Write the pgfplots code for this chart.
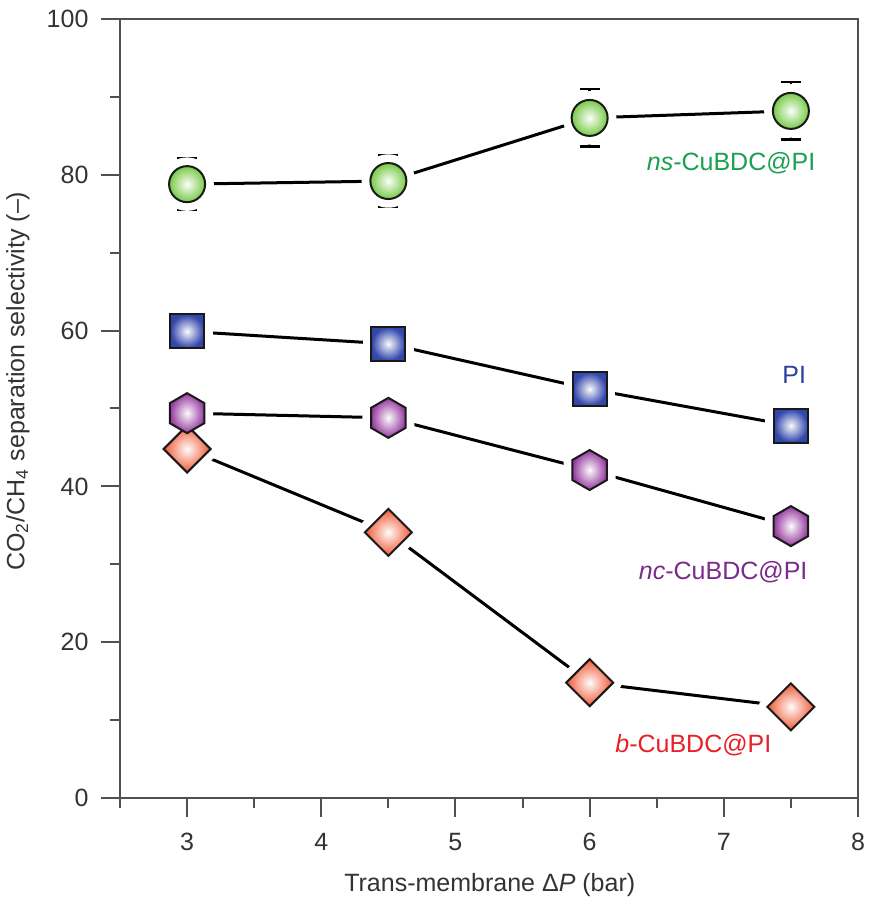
\documentclass[border=0pt]{standalone}
\usepackage{pgfplots}
\pgfplotsset{compat=1.18}
\usepackage{pgfplotstable}
\usepackage{fontspec}
\setmainfont{Liberation Sans}
\definecolor{cG}{RGB}{125,204,78}
\definecolor{cB}{RGB}{52,72,172}
\definecolor{cP}{RGB}{152,64,162}
\definecolor{cR}{RGB}{240,94,60}
\definecolor{tG}{RGB}{26,160,80}
\definecolor{tB}{RGB}{46,63,155}
\definecolor{tP}{RGB}{123,43,138}
\definecolor{tR}{RGB}{232,32,42}
\definecolor{axc}{RGB}{80,80,80}
\pgfdeclareradialshading{shG}{\pgfpointorigin}{color(0bp)=(white); color(3bp)=(white!85!cG); color(24bp)=(cG); color(50bp)=(cG!88!black); color(75bp)=(cG!88!black)}
\pgfdeclareradialshading{shB}{\pgfpointorigin}{color(0bp)=(white); color(3bp)=(white!85!cB); color(24bp)=(cB); color(50bp)=(cB!88!black); color(75bp)=(cB!88!black)}
\pgfdeclareradialshading{shP}{\pgfpointorigin}{color(0bp)=(white); color(3bp)=(white!85!cP); color(24bp)=(cP); color(50bp)=(cP!88!black); color(75bp)=(cP!88!black)}
\pgfdeclareradialshading{shR}{\pgfpointorigin}{color(0bp)=(white); color(3bp)=(white!85!cR); color(24bp)=(cR); color(50bp)=(cR!88!black); color(75bp)=(cR!88!black)}
\def\pathC{\pgfpathcircle{\pgfpointorigin}{7.2pt}}
\def\pathS{\pgfpathrectangle{\pgfqpoint{-6.8pt}{-6.8pt}}{\pgfqpoint{13.6pt}{13.6pt}}}
\def\pathD{\pgfpathmoveto{\pgfqpoint{0pt}{9.4pt}}\pgfpathlineto{\pgfqpoint{9.4pt}{0pt}}\pgfpathlineto{\pgfqpoint{0pt}{-9.4pt}}\pgfpathlineto{\pgfqpoint{-9.4pt}{0pt}}\pgfpathclose}
\def\pathH{\pgfpathmoveto{\pgfqpoint{0pt}{8pt}}\pgfpathlineto{\pgfqpoint{-6.93pt}{4pt}}\pgfpathlineto{\pgfqpoint{-6.93pt}{-4pt}}\pgfpathlineto{\pgfqpoint{0pt}{-8pt}}\pgfpathlineto{\pgfqpoint{6.93pt}{-4pt}}\pgfpathlineto{\pgfqpoint{6.93pt}{4pt}}\pgfpathclose}
\pgfdeclareplotmark{mkG}{\pathC\pgfshadepath{shG}{0}\pgfusepath{}\pathC\pgfusepathqstroke}
\pgfdeclareplotmark{mkB}{\pathS\pgfshadepath{shB}{0}\pgfusepath{}\pathS\pgfusepathqstroke}
\pgfdeclareplotmark{mkP}{\pathH\pgfshadepath{shP}{0}\pgfusepath{}\pathH\pgfusepathqstroke}
\pgfdeclareplotmark{mkR}{\pathD\pgfshadepath{shR}{0}\pgfusepath{}\pathD\pgfusepathqstroke}
\pgfdeclareplotmark{hC}{\pathC\pgfusepathqfillstroke}
\pgfdeclareplotmark{hS}{\pathS\pgfusepathqfillstroke}
\pgfdeclareplotmark{hH}{\pathH\pgfusepathqfillstroke}
\pgfdeclareplotmark{hD}{\pathD\pgfusepathqfillstroke}
\pgfdeclareplotmark{ecap}{\pgfpathmoveto{\pgfqpoint{0pt}{-4pt}}\pgfpathlineto{\pgfqpoint{0pt}{4pt}}\pgfusepathqstroke}
\pgfplotstableread{
x y e
3 78.8 3.3
4.5 79.2 3.3
6 87.3 3.7
7.5 88.2 3.7
}\ns
\pgfplotstableread{
x y e
3 59.9 2.7
4.5 58.3 2.6
6 52.5 2.2
7.5 47.8 1.5
}\pi
\pgfplotstableread{
x y e
3 49.4 2.2
4.5 48.8 2.2
6 42.1 1.0
7.5 34.9 1.0
}\nc
\pgfplotstableread{
x y
3 44.8
4.5 34.1
6 14.8
7.5 11.7
}\bb
\pgfplotsset{ebar/.style={black, line width=1pt, only marks, mark=none, forget plot,
  error bars/.cd, y dir=both, y explicit,
  error bar style={black, line width=1pt, solid},
  error mark=ecap, error mark options={black, line width=1.1pt}}}
\begin{document}
\begin{tikzpicture}
\begin{axis}[at={(0,0)}, anchor=south west, scale only axis,
  width=295.2pt, height=311.6pt,
  xmin=2.5, xmax=8, ymin=0, ymax=100,
  xtick={3,4,5,6,7,8}, minor xtick={2.5,3.5,4.5,5.5,6.5,7.5},
  ytick={0,20,40,60,80,100}, minor ytick={10,30,50,70,90},
  xtick pos=bottom, ytick pos=left, tick align=outside,
  major tick length=7.6pt, minor tick length=4pt,
  /pgf/number format/assume math mode=true,
  axis line style={draw=axc, line width=0.8pt},
  every tick/.style={draw=axc, line width=0.8pt},
  tick label style={text=black!80, font=\fontsize{10}{12}\selectfont},
  label style={text=black!80, font=\fontsize{10}{12}\selectfont},
  xticklabel style={yshift=-3pt},
  yticklabel style={xshift=-1.5pt},
  xlabel={Trans-membrane Δ\textit{P} (bar)},
  ylabel={CO\textsubscript{2}/CH\textsubscript{4} separation selectivity (–)},
  xlabel style={at={(axis description cs:0.501,0)}, anchor=center, yshift=-34.8pt},
  ylabel style={at={(axis description cs:0,0.535)}, anchor=center, yshift=40.8pt},
  clip=false,
]
% connecting lines
\addplot[black, line width=1.2pt, no markers] table[x=x,y=y] {\bb};
\addplot[black, line width=1.2pt, no markers] table[x=x,y=y] {\nc};
\addplot[black, line width=1.2pt, no markers] table[x=x,y=y] {\pi};
\addplot[black, line width=1.2pt, no markers] table[x=x,y=y] {\ns};
% halos
\addplot[only marks, mark=hD, mark options={draw=white, fill=white, line width=7pt, line join=round}] table[x=x,y=y] {\bb};
\addplot[only marks, mark=hH, mark options={draw=white, fill=white, line width=7pt, line join=round}] table[x=x,y=y] {\nc};
\addplot[only marks, mark=hS, mark options={draw=white, fill=white, line width=7pt, line join=round}] table[x=x,y=y] {\pi};
\addplot[only marks, mark=hC, mark options={draw=white, fill=white, line width=7pt, line join=round}] table[x=x,y=y] {\ns};
% error bars
\addplot[ebar] table[x=x,y=y,y error=e] {\nc};
\addplot[ebar] table[x=x,y=y,y error=e] {\pi};
\addplot[ebar] table[x=x,y=y,y error=e] {\ns};
% marks
\addplot[only marks, mark=mkR, mark options={draw=black!90, line width=0.8pt}] table[x=x,y=y] {\bb};
\addplot[only marks, mark=mkP, mark options={draw=black!90, line width=0.8pt}] table[x=x,y=y] {\nc};
\addplot[only marks, mark=mkB, mark options={draw=black!90, line width=0.8pt}] table[x=x,y=y] {\pi};
\addplot[only marks, mark=mkG, mark options={draw=black!90, line width=0.8pt}] table[x=x,y=y] {\ns};
% labels
\node[anchor=east, text=tG, font=\fontsize{10}{12}\selectfont, inner sep=0pt] at (axis cs:7.686,81.5) {\textit{ns}-CuBDC@PI};
\node[anchor=east, text=tB, font=\fontsize{10}{12}\selectfont, inner sep=0pt] at (axis cs:7.617,54.3) {PI};
\node[anchor=east, text=tP, font=\fontsize{10}{12}\selectfont, inner sep=0pt] at (axis cs:7.627,29.0) {\textit{nc}-CuBDC@PI};
\node[anchor=east, text=tR, font=\fontsize{10}{12}\selectfont, inner sep=0pt] at (axis cs:7.358,6.8) {\textit{b}-CuBDC@PI};
\end{axis}
\pgfresetboundingbox
\path[use as bounding box] (-48pt,-41.6pt) rectangle (301.2pt,319.2pt);
\end{tikzpicture}
\end{document}
